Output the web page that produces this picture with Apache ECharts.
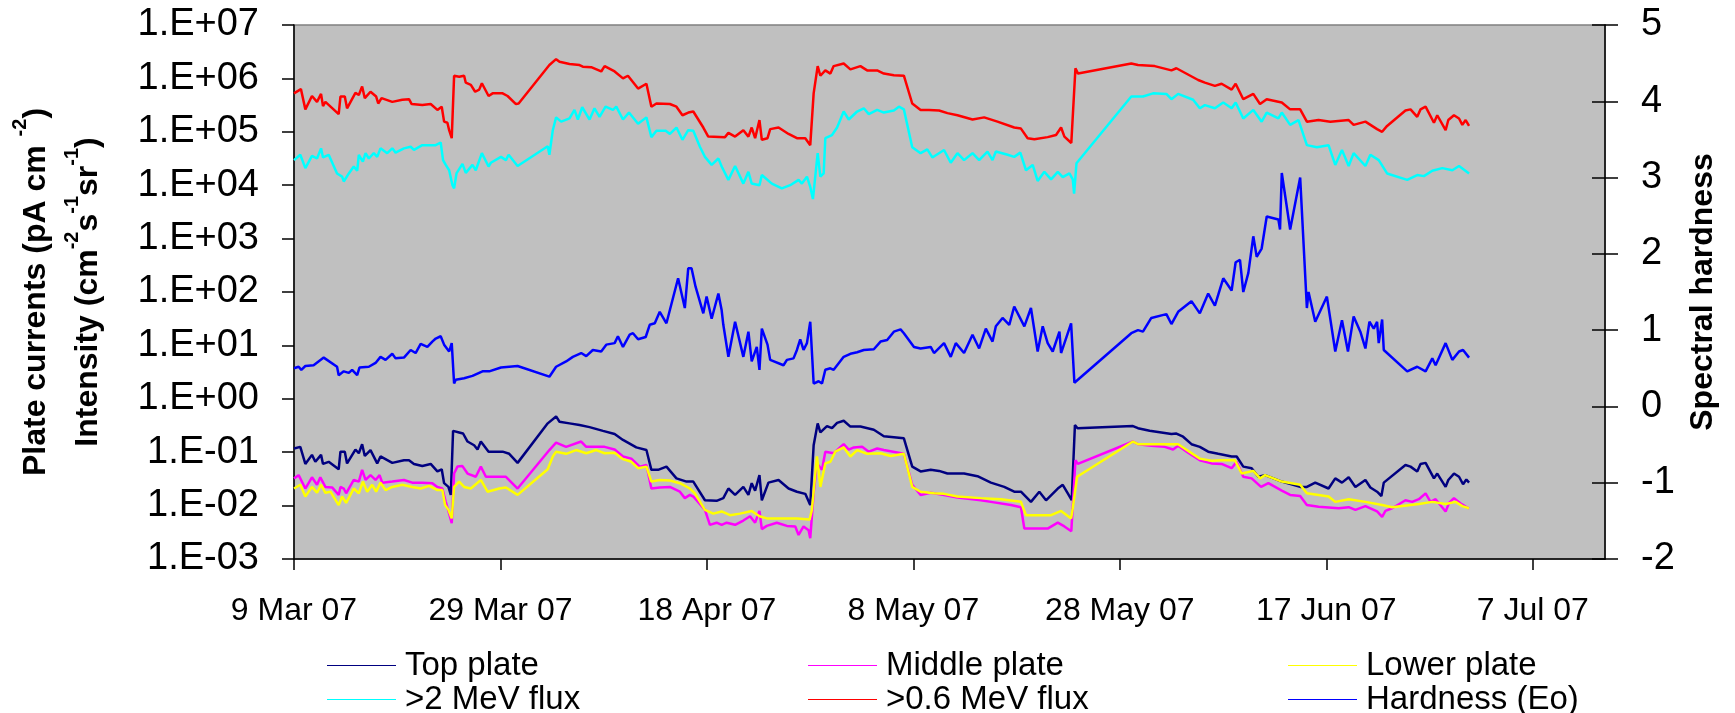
<!DOCTYPE html>
<html>
<head>
<meta charset="utf-8">
<script src="https://cdn.jsdelivr.net/npm/echarts/dist/echarts.min.js"></script>
<style>
  html, body { margin: 0; padding: 0; background: #fff; }
  #chart1 { width: 1735px; height: 713px; }
</style>
</head>
<body>
<div id="chart1"></div>
<script>
// x values are days after 9 Mar 2007; plate currents and fluxes are given as
// the power of ten read off the log axis, hardness is read off the right axis
var xTicks = [0, 20, 40, 60, 80, 100, 120];
var decades = [1e-3, 1e-2, 1e-1, 1, 1e1, 1e2, 1e3, 1e4, 1e5, 1e6, 1e7];
var names = ['Top plate', 'Middle plate', 'Lower plate', '>2 MeV flux', '>0.6 MeV flux', 'Hardness (Eo)'];

var topDays = [0,0.61,1.1,1.74,2.07,2.62,2.81,3.36,4.33,4.5,4.92,5.14,5.95,6.28,6.6,6.86,7.41,8.06,8.38,9.52,10.65,11.14,11.62,12.43,13.24,13.89,14.31,14.54,14.96,15.19,15.41,16.0,16.38,16.81,17.45,17.78,18.1,18.85,20.21,20.85,21.66,24.58,25.39,25.72,26.69,27.66,28.63,29.93,31.06,31.87,33.16,34.14,34.62,35.27,36.08,37.05,38.03,38.68,39.81,40.94,41.59,42.08,42.73,43.53,44.02,44.34,44.67,45.09,45.32,45.96,46.94,47.91,48.72,49.53,50.01,50.34,50.73,50.99,51.63,52.12,52.61,53.25,53.9,54.87,56.17,57.14,58.11,59.08,59.89,60.7,61.68,62.49,63.3,64.91,66.21,67.51,68.8,69.77,70.42,71.39,72.2,72.85,73.99,74.47,74.96,75.34,75.65,75.9,81.27,81.76,82.89,85.0,85.48,86.13,86.94,87.75,88.56,89.53,90.83,91.32,91.96,92.77,93.42,94.07,95.69,97.47,98.12,98.93,100.22,100.87,101.52,102.17,102.82,103.79,104.27,104.92,105.34,105.57,107.67,108.16,108.81,109.13,109.62,110.43,110.75,111.56,111.82,112.37,112.86,113.25,113.57,113.83];
var topExp = [-0.93,-0.90,-1.22,-1.05,-1.18,-1.05,-1.22,-1.18,-1.32,-0.99,-0.99,-1.21,-0.95,-1.02,-0.85,-1.07,-0.96,-1.21,-1.08,-1.20,-1.15,-1.15,-1.22,-1.26,-1.22,-1.36,-1.32,-1.58,-1.65,-1.80,-0.60,-0.63,-0.65,-0.80,-0.87,-0.95,-0.80,-0.99,-0.99,-1.03,-1.20,-0.46,-0.33,-0.43,-0.46,-0.49,-0.53,-0.60,-0.66,-0.77,-0.91,-0.96,-1.33,-1.33,-1.27,-1.49,-1.55,-1.55,-1.90,-1.91,-1.86,-1.68,-1.80,-1.65,-1.80,-1.58,-1.72,-1.43,-1.90,-1.57,-1.52,-1.68,-1.74,-1.78,-1.99,-0.87,-0.46,-0.63,-0.51,-0.55,-0.45,-0.41,-0.52,-0.52,-0.58,-0.70,-0.72,-0.74,-1.27,-1.36,-1.33,-1.35,-1.40,-1.40,-1.45,-1.57,-1.65,-1.74,-1.74,-1.93,-1.74,-1.90,-1.68,-1.61,-1.77,-1.90,-0.49,-0.55,-0.51,-0.55,-0.60,-0.66,-0.65,-0.71,-0.85,-0.90,-0.99,-1.03,-1.08,-1.08,-1.27,-1.30,-1.46,-1.43,-1.55,-1.65,-1.65,-1.57,-1.68,-1.49,-1.57,-1.47,-1.65,-1.52,-1.66,-1.74,-1.82,-1.57,-1.24,-1.27,-1.36,-1.22,-1.20,-1.49,-1.40,-1.65,-1.52,-1.40,-1.46,-1.60,-1.51,-1.57];

var midDays = [0,0.45,1.1,1.74,2.23,2.55,3.04,3.69,4.33,4.5,4.82,5.05,5.79,6.28,6.6,6.93,7.41,7.9,8.29,8.55,9.52,10.65,11.46,12.43,13.4,13.89,14.37,14.7,15.03,15.28,15.51,15.83,16.32,16.81,17.61,18.1,18.59,19.56,20.53,21.66,24.74,25.39,26.36,27.82,28.31,29.28,30.09,31.06,31.87,32.68,33.49,34.14,34.62,35.43,36.41,37.38,37.86,38.35,38.68,39.81,40.29,40.94,41.43,41.91,42.73,43.53,44.18,44.67,45.09,45.32,45.8,46.77,47.75,48.56,48.88,49.36,49.85,50.01,50.34,50.66,51.15,51.47,52.28,53.25,53.74,54.23,55.04,55.68,56.49,57.14,59.08,59.89,60.7,61.68,62.97,64.27,66.53,67.51,69.45,70.42,70.75,71.72,73.01,73.99,74.63,75.3,75.7,75.93,81.27,81.76,83.05,84.35,85.16,85.65,86.62,87.75,88.88,89.86,90.83,91.32,91.96,92.77,93.68,94.39,95.69,96.5,97.47,98.12,99.25,101.2,102.17,102.82,103.79,104.92,105.41,105.73,106.38,107.67,108.32,108.97,109.62,110.1,110.59,111.56,111.89,112.37,113.02,113.5,113.83];
var midExp = [-1.49,-1.43,-1.68,-1.47,-1.61,-1.47,-1.65,-1.66,-1.80,-1.65,-1.68,-1.77,-1.52,-1.55,-1.33,-1.52,-1.43,-1.52,-1.43,-1.57,-1.55,-1.52,-1.57,-1.57,-1.58,-1.65,-1.68,-1.93,-2.15,-2.33,-1.40,-1.27,-1.26,-1.40,-1.46,-1.27,-1.46,-1.46,-1.46,-1.68,-0.96,-0.82,-0.90,-0.80,-0.90,-0.90,-0.90,-0.95,-1.08,-1.12,-1.27,-1.24,-1.68,-1.66,-1.65,-1.74,-1.86,-1.80,-1.83,-2.08,-2.36,-2.32,-2.36,-2.32,-2.36,-2.28,-2.20,-2.32,-2.10,-2.44,-2.38,-2.32,-2.38,-2.39,-2.55,-2.39,-2.46,-2.61,-1.77,-1.21,-1.33,-0.99,-1.02,-0.85,-0.95,-0.91,-0.90,-0.99,-0.93,-0.96,-1.03,-1.61,-1.80,-1.76,-1.80,-1.85,-1.90,-1.93,-1.99,-2.03,-2.43,-2.43,-2.43,-2.32,-2.39,-2.48,-1.15,-1.22,-0.80,-0.85,-0.88,-0.90,-0.95,-0.88,-1.01,-1.15,-1.21,-1.22,-1.30,-1.18,-1.46,-1.49,-1.65,-1.58,-1.72,-1.80,-1.82,-1.99,-2.02,-2.05,-2.03,-2.08,-2.01,-2.11,-2.21,-2.10,-2.05,-1.90,-1.93,-1.88,-1.77,-1.93,-1.88,-2.11,-1.95,-1.86,-1.96,-2.02,-2.05];

var lowDays = [0,0.61,1.1,1.74,2.23,2.62,3.04,3.53,4.33,4.66,5.05,5.79,6.28,6.67,7.09,7.57,7.96,8.38,8.87,9.52,10.49,11.46,12.27,13.08,13.89,14.37,14.64,14.96,15.28,15.51,16.0,16.48,17.13,18.1,18.75,19.88,20.53,21.66,24.58,25.07,25.39,26.36,27.33,28.31,29.28,30.09,31.06,31.87,32.68,33.33,34.14,34.62,35.43,36.41,37.38,38.35,38.84,39.81,40.62,41.43,42.24,43.21,44.34,45.09,45.8,47.1,48.72,49.95,50.17,50.66,50.99,51.47,51.96,52.44,53.25,53.9,54.55,55.52,56.82,57.79,59.08,59.89,60.7,62.0,62.97,64.27,66.53,68.48,70.42,70.91,72.04,73.34,74.31,75.28,75.44,75.86,81.27,81.76,84.51,85.65,87.75,88.88,89.86,91.15,91.8,92.93,93.58,94.07,95.69,97.47,98.12,100.22,100.87,102.17,103.79,105.41,106.38,108.97,110.27,111.56,112.53,113.18,113.83];
var lowExp = [-1.68,-1.61,-1.83,-1.65,-1.76,-1.61,-1.76,-1.74,-1.99,-1.83,-1.95,-1.68,-1.77,-1.55,-1.74,-1.61,-1.74,-1.57,-1.71,-1.65,-1.61,-1.65,-1.68,-1.63,-1.71,-1.71,-1.99,-2.08,-2.24,-1.65,-1.55,-1.65,-1.68,-1.52,-1.74,-1.68,-1.66,-1.80,-1.32,-1.08,-0.99,-1.03,-0.96,-1.02,-0.96,-1.02,-1.01,-1.13,-1.18,-1.30,-1.27,-1.55,-1.52,-1.53,-1.58,-1.68,-1.77,-2.08,-2.15,-2.11,-2.18,-2.15,-2.10,-2.20,-2.24,-2.24,-2.24,-2.26,-2.08,-1.08,-1.65,-1.21,-1.18,-0.99,-0.91,-1.08,-0.96,-1.03,-1.02,-1.07,-1.03,-1.65,-1.74,-1.77,-1.78,-1.83,-1.86,-1.88,-1.93,-2.18,-2.18,-2.18,-2.10,-2.24,-2.05,-1.46,-0.80,-0.85,-0.85,-0.85,-1.12,-1.16,-1.15,-1.15,-1.40,-1.35,-1.49,-1.43,-1.55,-1.61,-1.77,-1.83,-1.93,-1.88,-1.93,-1.99,-2.03,-1.97,-1.93,-1.97,-1.93,-2.01,-2.05];

var mev2Days = [0,0.61,1.1,1.74,2.23,2.62,2.81,3.36,4.17,4.66,4.82,5.31,5.79,6.12,6.28,6.67,6.93,7.25,7.73,8.06,8.38,9.03,9.52,9.84,10.65,11.3,11.62,12.43,13.73,14.21,14.44,14.7,15.03,15.35,15.51,15.74,16.32,16.64,17.29,17.61,18.2,18.85,19.07,20.05,20.53,20.79,21.66,24.58,24.74,25.07,25.39,25.88,26.69,27.17,27.5,27.92,28.63,29.11,29.6,30.18,30.9,31.22,31.87,32.45,33.33,34.14,34.62,35.11,36.01,36.41,37.05,37.63,38.19,38.68,39.32,39.81,40.46,41.11,41.43,42.08,42.73,43.53,44.02,44.34,45.09,45.32,46.29,47.26,48.07,48.88,49.2,49.69,50.01,50.27,50.73,50.99,51.31,51.47,52.12,52.61,53.25,53.74,54.55,55.2,55.68,56.49,57.14,58.11,58.6,59.08,59.89,60.7,61.35,61.84,62.97,63.62,64.27,64.91,65.73,66.37,67.18,67.67,67.99,69.13,69.77,70.36,70.91,71.56,72.04,72.69,73.34,73.99,74.47,75.12,75.44,75.57,75.8,81.11,82.24,83.22,84.51,85.0,85.65,87.1,87.75,88.24,89.21,90.02,90.83,91.22,91.96,92.93,93.74,94.23,95.36,95.69,96.5,97.31,98.12,99.09,100.22,100.87,101.52,102.17,102.65,103.79,104.27,105.08,105.89,107.84,108.81,109.46,110.27,111.24,112.21,112.86,113.83];
var mev2Exp = [4.47,4.57,4.32,4.55,4.50,4.69,4.52,4.57,4.22,4.16,4.07,4.22,4.35,4.27,4.57,4.44,4.60,4.50,4.60,4.53,4.69,4.60,4.69,4.61,4.69,4.72,4.66,4.75,4.75,4.80,4.47,4.38,4.28,4.00,3.94,4.22,4.40,4.23,4.38,4.28,4.60,4.35,4.42,4.53,4.47,4.57,4.36,4.73,4.57,5.03,5.27,5.19,5.25,5.41,5.23,5.46,5.23,5.44,5.28,5.47,5.41,5.47,5.23,5.36,5.15,5.27,4.90,5.02,5.02,4.96,5.08,4.85,5.03,5.02,4.72,4.53,4.38,4.50,4.35,4.10,4.36,4.03,4.25,4.03,4.00,4.19,4.03,3.94,4.00,4.10,4.03,4.16,3.97,3.74,4.60,4.16,4.22,4.88,4.94,5.08,5.38,5.23,5.38,5.44,5.33,5.41,5.36,5.40,5.47,5.42,4.71,4.60,4.67,4.52,4.66,4.42,4.60,4.47,4.60,4.47,4.63,4.47,4.63,4.57,4.53,4.61,4.28,4.38,4.08,4.25,4.11,4.25,4.15,4.22,4.11,3.84,4.41,5.66,5.66,5.72,5.71,5.61,5.71,5.60,5.44,5.50,5.44,5.55,5.44,5.55,5.25,5.41,5.19,5.36,5.25,5.36,5.13,5.22,4.75,4.71,4.75,4.38,4.66,4.36,4.60,4.36,4.57,4.47,4.22,4.10,4.19,4.17,4.27,4.32,4.28,4.36,4.22];

var mev06Days = [0,0.67,1.1,1.74,2.23,2.62,2.81,3.04,4.33,4.5,4.92,5.14,5.95,6.28,6.6,6.86,7.41,7.96,8.16,8.48,9.52,10.49,11.14,11.4,12.43,13.24,13.89,14.31,14.54,14.86,15.03,15.28,15.51,16.0,16.48,16.64,17.13,17.55,17.94,18.2,18.85,19.24,20.21,20.69,21.5,21.76,24.74,25.39,25.72,26.69,27.66,27.98,28.79,29.76,30.09,31.06,31.87,32.35,33.33,34.14,34.62,35.11,36.41,37.05,37.63,38.2,38.68,39.65,40.13,41.75,42.08,42.73,43.53,44.02,44.34,44.67,45.09,45.32,45.87,46.13,46.94,47.91,48.72,49.53,50.01,50.34,50.73,50.99,51.47,51.96,52.28,53.25,53.9,54.87,55.52,56.49,57.14,58.11,59.08,59.89,60.7,61.51,62.49,63.3,64.27,65.73,66.86,68.15,69.77,70.42,71.07,71.72,73.01,73.82,74.31,74.63,75.3,75.7,75.95,81.11,81.76,83.38,85.0,85.48,87.59,88.24,89.21,89.86,90.83,91.22,91.96,92.93,93.58,94.23,95.69,96.5,97.47,98.12,99.25,100.39,102.17,102.65,103.79,104.92,105.41,105.89,107.67,108.16,108.81,109.13,109.62,110.43,110.75,111.56,111.82,112.37,112.86,113.18,113.5,113.83];
var mev06Exp = [5.72,5.80,5.42,5.67,5.56,5.71,5.48,5.56,5.33,5.66,5.66,5.44,5.73,5.69,5.85,5.63,5.75,5.66,5.53,5.63,5.56,5.60,5.61,5.52,5.50,5.52,5.41,5.47,5.19,5.17,5.03,4.88,6.05,6.03,6.05,5.92,5.88,5.75,5.79,5.91,5.67,5.72,5.72,5.67,5.52,5.53,6.25,6.36,6.31,6.27,6.25,6.22,6.21,6.13,6.23,6.13,6.00,6.05,5.81,5.90,5.47,5.53,5.52,5.47,5.31,5.36,5.38,5.08,4.91,4.90,4.98,4.91,5.03,4.91,5.08,4.88,5.22,4.85,4.88,5.05,5.08,4.96,4.88,4.88,4.75,5.72,6.23,6.05,6.15,6.09,6.23,6.28,6.17,6.23,6.15,6.15,6.09,6.06,6.05,5.53,5.41,5.41,5.40,5.35,5.31,5.23,5.27,5.19,5.08,5.06,4.88,4.86,4.90,4.94,5.08,4.91,4.79,6.19,6.09,6.28,6.25,6.23,6.15,6.19,5.97,5.92,5.86,5.90,5.79,5.90,5.61,5.71,5.52,5.61,5.55,5.42,5.42,5.19,5.22,5.19,5.22,5.13,5.19,5.05,5.00,5.11,5.40,5.42,5.28,5.42,5.47,5.17,5.31,5.03,5.22,5.31,5.25,5.13,5.22,5.11];

var hardDays = [0,0.45,0.71,1.1,1.9,2.88,4.17,4.33,4.82,5.31,5.63,6.12,6.34,7.25,7.9,8.38,8.87,9.52,9.84,10.65,11.3,11.78,12.27,12.92,13.4,13.73,14.21,14.54,15.03,15.28,15.51,15.67,16.48,17.29,18.26,18.91,20.05,21.66,24.74,25.39,26.36,27.01,27.82,28.31,28.95,29.76,30.25,31.06,31.38,31.87,32.52,32.84,33.33,34.07,34.46,34.95,35.43,36.08,37.21,37.86,38.19,38.51,38.9,39.65,39.97,40.46,41.11,41.43,41.59,42.08,42.73,43.53,44.02,44.34,44.83,45.09,45.32,45.87,46.13,47.42,47.75,48.39,48.72,49.04,49.36,49.69,50.01,50.34,50.82,51.15,51.47,51.96,52.28,53.25,53.9,54.55,55.2,56.17,56.82,57.46,58.11,58.76,59.08,60.06,60.7,61.68,62.0,62.97,63.62,64.11,64.91,65.73,66.37,67.02,67.67,67.99,68.64,69.29,69.77,70.75,71.39,72.04,72.53,73.01,73.5,74.15,74.31,74.96,75.28,75.6,81.11,81.76,82.24,83.05,84.51,85.0,85.65,86.94,87.75,88.56,89.21,90.02,90.83,91.22,91.64,91.96,92.45,92.93,93.26,93.74,94.23,95.36,95.52,95.69,96.5,97.47,98.12,98.28,98.93,100.06,100.87,101.52,102.1,102.65,103.3,103.79,104.18,104.6,104.92,105.08,105.41,105.57,107.84,108.81,109.62,110.27,110.59,111.56,112.21,112.86,113.25,113.83];
var hardVals = [0.50,0.52,0.48,0.53,0.54,0.64,0.52,0.41,0.46,0.44,0.48,0.41,0.51,0.52,0.57,0.65,0.61,0.69,0.63,0.64,0.74,0.70,0.82,0.78,0.85,0.89,0.92,0.81,0.72,0.83,0.30,0.35,0.37,0.40,0.46,0.46,0.51,0.53,0.39,0.52,0.59,0.65,0.70,0.66,0.74,0.72,0.81,0.83,0.92,0.78,0.94,0.96,0.88,0.91,1.07,1.09,1.24,1.09,1.68,1.29,1.81,1.81,1.57,1.22,1.44,1.15,1.48,1.26,1.07,0.65,1.11,0.65,0.98,0.59,0.78,0.48,1.02,0.81,0.61,0.54,0.61,0.63,0.74,0.88,0.74,0.83,1.11,0.30,0.33,0.30,0.48,0.50,0.48,0.65,0.69,0.71,0.74,0.75,0.85,0.87,0.98,1.01,0.96,0.78,0.76,0.78,0.70,0.83,0.65,0.83,0.70,0.94,0.76,1.02,0.85,1.05,1.16,1.07,1.31,1.05,1.29,0.72,1.05,0.83,0.72,0.98,0.70,0.96,1.09,0.31,0.96,1.00,0.98,1.16,1.21,1.08,1.24,1.38,1.22,1.48,1.32,1.68,1.52,1.89,1.92,1.50,1.75,2.23,1.96,2.07,2.49,2.45,2.32,3.06,2.32,3.00,1.29,1.50,1.11,1.44,0.72,1.13,0.72,1.18,0.98,0.76,1.11,1.02,1.11,0.83,1.14,0.74,0.46,0.52,0.46,0.63,0.54,0.83,0.61,0.72,0.74,0.64];

var FONT = "'Liberation Sans', Arial, sans-serif";
var MONTHS = ['Jan','Feb','Mar','Apr','May','Jun','Jul','Aug','Sep','Oct','Nov','Dec'];

function dayLabel(d) {
    var t = new Date(Date.UTC(2007, 2, 9 + Math.round(d)));
    return t.getUTCDate() + ' ' + MONTHS[t.getUTCMonth()] + ' ' + String(t.getUTCFullYear()).slice(2);
}
function expLabel(v) {
    var e = Math.round(Math.log(v) / Math.LN10);
    return '1.E' + (e < 0 ? '-' : '+') + (Math.abs(e) < 10 ? '0' : '') + Math.abs(e);
}
function logPairs(days, exps) {
    return days.map(function (d, i) { return [d, Math.pow(10, exps[i])]; });
}
function pairs(days, vals) {
    return days.map(function (d, i) { return [d, vals[i]]; });
}
function lineSeries(name, color, data, yIndex) {
    return {
        name: name, type: 'line', data: data, yAxisIndex: yIndex,
        symbol: 'none', showSymbol: false, silent: true,
        lineStyle: { color: color, width: 2.5 },
        itemStyle: { color: color }
    };
}
// one legend per column, two rows each
function legendCol(left, items) {
    return {
        orient: 'vertical', left: left, top: 649, height: 100, padding: 0,
        icon: 'path://M0,0 L69,0 L69,1 L0,1 Z',
        itemWidth: 69, itemHeight: 3, itemGap: 1,
        data: items,
        textStyle: { fontFamily: FONT, fontSize: 33, color: '#000', padding: [0, 0, 0, 4] }
    };
}

var myChart = echarts.init(document.getElementById('chart1'));

var option = {
    animation: false,
    backgroundColor: '#fff',
    grid: {
        left: 294, right: 130, top: 25, bottom: 154,
        show: true, backgroundColor: '#c0c0c0', borderColor: '#808080', borderWidth: 1.5
    },
    legend: [
        legendCol(327, [names[0], names[3]]),
        legendCol(808, [names[1], names[4]]),
        legendCol(1288, [names[2], names[5]])
    ],
    xAxis: {
        type: 'value', min: 0, max: 127,
        axisLine: { onZero: false, lineStyle: { color: '#000', width: 1.5 } },
        axisTick: { length: 11, lineStyle: { color: '#000', width: 1.5 }, customValues: xTicks },
        axisLabel: {
            customValues: xTicks, formatter: dayLabel, margin: 36,
            fontFamily: FONT, fontSize: 32, color: '#000'
        },
        splitLine: { show: false }
    },
    yAxis: [
        {
            type: 'log', logBase: 10, min: 1e-3, max: 1e7, position: 'left',
            name: '{t|Plate currents (pA cm }{s|-2}{t|)}\n{t|Intensity (cm}{s|-2}{t|s}{s|-1}{t|sr}{s|-1}{t|)}',
            nameLocation: 'middle', nameGap: 180,
            nameTextStyle: {
                fontFamily: FONT, fontWeight: 'bold', fontSize: 32, color: '#000',
                rich: {
                    t: { fontFamily: FONT, fontWeight: 'bold', fontSize: 32, lineHeight: 52, color: '#000' },
                    s: { fontFamily: FONT, fontWeight: 'bold', fontSize: 20, lineHeight: 30, verticalAlign: 'top', color: '#000' }
                }
            },
            axisLine: { show: true, onZero: false, lineStyle: { color: '#000', width: 1.5 } },
            axisTick: { show: true, length: 12, lineStyle: { color: '#000', width: 1.5 }, customValues: decades },
            axisLabel: {
                customValues: decades, formatter: expLabel, margin: 35,
                fontFamily: FONT, fontSize: 38, color: '#000'
            },
            splitLine: { show: false }
        },
        {
            type: 'value', min: -2, max: 5, interval: 1, position: 'right',
            name: 'Spectral hardness', nameLocation: 'middle', nameGap: 82,
            nameTextStyle: { fontFamily: FONT, fontWeight: 'bold', fontSize: 32, color: '#000' },
            axisLine: { show: true, onZero: false, lineStyle: { color: '#000', width: 1.5 } },
            axisTick: { show: true, length: 13, lineStyle: { color: '#000', width: 1.5 } },
            axisLabel: { margin: 36, fontFamily: FONT, fontSize: 38, color: '#000' },
            splitLine: { show: false }
        },
        {
            // inner half of the crossing ticks on the right axis
            type: 'value', min: -2, max: 5, interval: 1, position: 'right',
            axisLine: { show: false, onZero: false },
            axisTick: { show: true, inside: true, length: 13, lineStyle: { color: '#000', width: 1.5 } },
            axisLabel: { show: false },
            splitLine: { show: false }
        }
    ],
    series: [
        lineSeries(names[0], '#000080', logPairs(topDays, topExp), 0),
        lineSeries(names[1], '#ff00ff', logPairs(midDays, midExp), 0),
        lineSeries(names[2], '#ffff00', logPairs(lowDays, lowExp), 0),
        lineSeries(names[3], '#00ffff', logPairs(mev2Days, mev2Exp), 0),
        lineSeries(names[4], '#ff0000', logPairs(mev06Days, mev06Exp), 0),
        lineSeries(names[5], '#0000ff', pairs(hardDays, hardVals), 1)
    ]
};

myChart.setOption(option);
</script>
</body>
</html>
